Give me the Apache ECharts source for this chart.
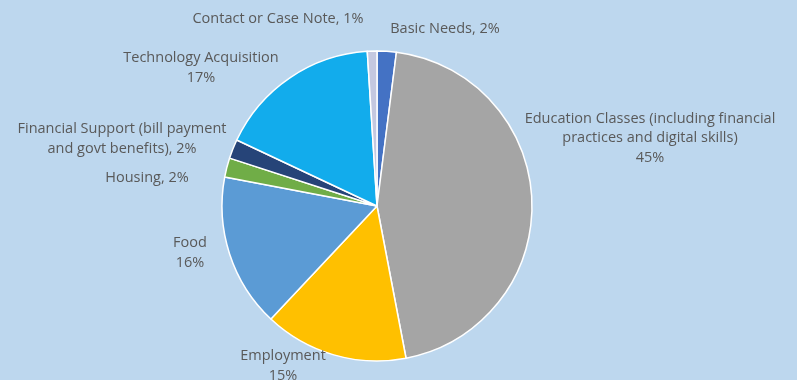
<!DOCTYPE html>
<html><head><meta charset="utf-8">
<script src="https://cdn.jsdelivr.net/npm/echarts@6/dist/echarts.min.js"></script>
<style>html,body{margin:0;padding:0;background:#BDD7EE}#c{width:797px;height:380px}</style>
</head><body><div id="c"></div>
<script>
const categories = ['Basic Needs', 'Education Classes (including financial\npractices and digital skills)', 'Employment', 'Food', 'Housing', 'Financial Support (bill payment\nand govt benefits)', 'Technology Acquisition', 'Contact or Case Note'];
const values = [2, 45, 15, 16, 2, 2, 17, 1];
const labelStyles = ['inline', 'stacked', 'stacked', 'stacked', 'inline', 'inline', 'stacked', 'inline'];
const colors = ['#4472C4', '#A5A5A5', '#FFC000', '#5B9BD5', '#70AD47', '#264478', '#12ACEC', '#C4C8E0'];
// label block centres (px), as placed in the reference
const labelCenters = [[445, 29], [650, 138], [283, 366], [190, 253], [147, 178], [122, 139], [201, 68], [278, 19]];

const chart = echarts.init(document.getElementById('c'));
chart.setOption({
  backgroundColor: '#BDD7EE',
  animation: false,
  series: [{
    type: 'pie',
    center: [377, 206],
    radius: 155,
    startAngle: 90,
    clockwise: true,
    avoidLabelOverlap: false,
    itemStyle: { borderColor: '#FFFFFF', borderWidth: 1.5 },
    label: {
      show: true,
      position: 'outside',
      color: '#595959',
      fontFamily: 'Open Sans',
      fontSize: 14.5,
      lineHeight: 19.5,
      align: 'center',
      formatter: p => {
        const i = p.dataIndex;
        return labelStyles[i] === 'inline' ? p.name + ', ' + p.value + '%' : p.name + '\n' + p.value + '%';
      }
    },
    labelLine: { show: false },
    labelLayout: p => ({
      x: labelCenters[p.dataIndex][0],
      y: labelCenters[p.dataIndex][1],
      align: 'center',
      verticalAlign: 'middle',
      hideOverlap: false
    }),
    data: categories.map((c, i) => ({ name: c, value: values[i], itemStyle: { color: colors[i] } }))
  }]
});
</script></body></html>
